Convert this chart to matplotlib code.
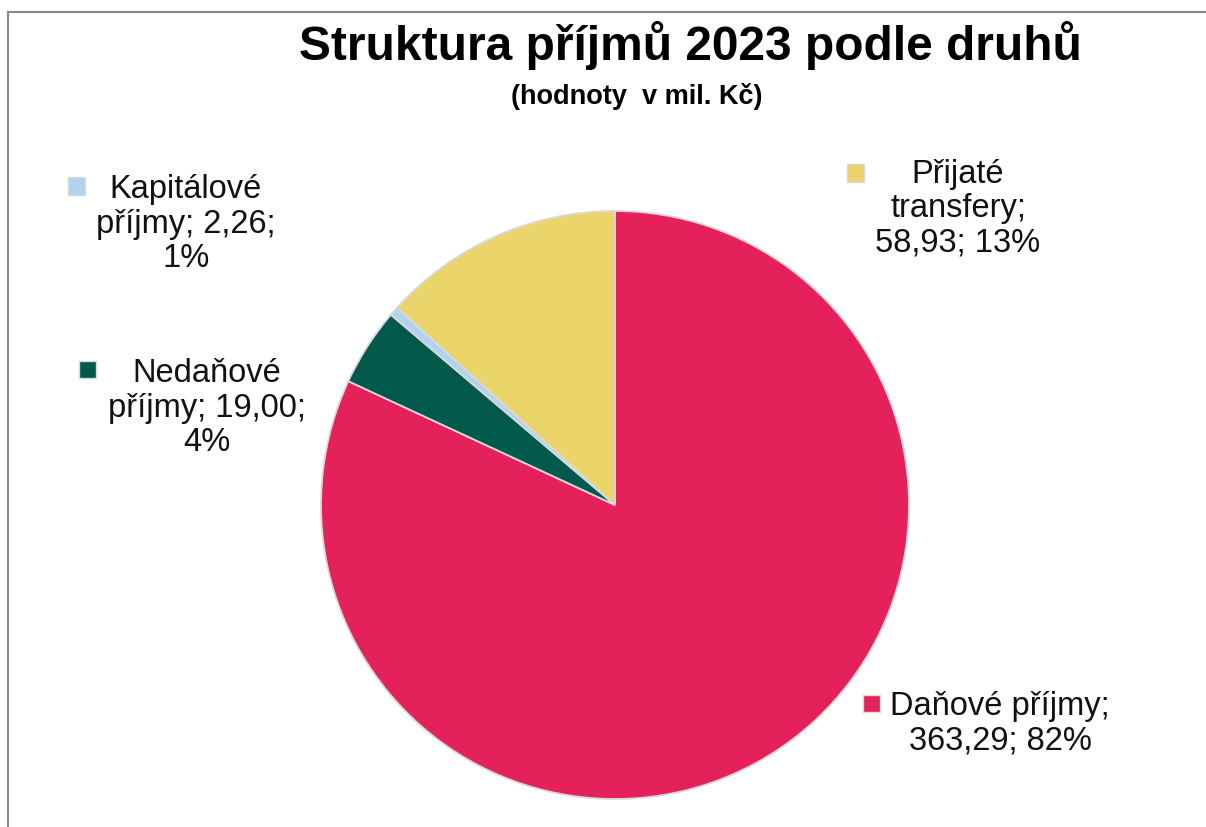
import matplotlib.pyplot as plt
from matplotlib.patches import Rectangle
from matplotlib.lines import Line2D

plt.rcParams["font.family"] = ["Liberation Sans", "DejaVu Sans"]

# data (mil. Kč)
categories = ["Daňové příjmy", "Nedaňové příjmy", "Kapitálové příjmy", "Přijaté transfery"]
values = [363.29, 19.00, 2.26, 58.93]
colors = ["#E5215B", "#00594A", "#B3D2F0", "#EBD46A"]

W, H = 1206, 827
fig = plt.figure(figsize=(W / 100, H / 100), dpi=100)


def fx(px):
    return px / W


def fy(py):
    return 1 - py / H


# pie: center (615, 505) px, radius 294 px
cx, cy, r = 615, 505, 294
ax = fig.add_axes([fx(cx - r), fy(cy + r), 2 * r / W, 2 * r / H])
ax.pie(
    values,
    colors=colors,
    startangle=90,
    counterclock=False,
    wedgeprops=dict(edgecolor="#d9d9d9", linewidth=1.3),
)
ax.set_xlim(-1, 1)
ax.set_ylim(-1, 1)
ax.set_aspect("auto")
ax.axis("off")

# titles
fig.text(fx(690), fy(46), "Struktura příjmů 2023 podle druhů",
         ha="center", va="center", fontsize=34.5, fontweight="bold")
fig.text(fx(637), fy(96), "(hodnoty  v mil. Kč)",
         ha="center", va="center", fontsize=19.5, fontweight="bold")

# data labels
total = sum(values)


def fmt(v):
    return f"{v:.2f}".replace(".", ",")


pct = [f"{round(v / total * 100):.0f}%" for v in values]
label_text = [
    f"Daňové příjmy;\n{fmt(values[0])}; {pct[0]}",
    f"Nedaňové\npříjmy; {fmt(values[1])};\n{pct[1]}",
    f"Kapitálové\npříjmy; {fmt(values[2])};\n{pct[2]}",
    f"Přijaté\ntransfery;\n{fmt(values[3])}; {pct[3]}",
]
label_pos = [(1000, 724), (207, 408), (186, 224), (958, 209)]
marker_pos = [(871, 703), (87, 369), (76, 186), (855, 173)]

for txt, (x, y), (mx, my), c in zip(label_text, label_pos, marker_pos, colors):
    fig.text(fx(x), fy(y), txt, ha="center", va="center", fontsize=23.5,
             linespacing=1.14, color="#111111")
    s = 17
    fig.patches.append(Rectangle((fx(mx - s / 2), fy(my + s / 2)), s / W, s / H,
                                 transform=fig.transFigure, facecolor=c,
                                 edgecolor="#d9d9d9", linewidth=1))

# chart frame (top and left)
fig.add_artist(Line2D([fx(8), 1], [fy(12), fy(12)], color="#888888", lw=1.5,
                      transform=fig.transFigure))
fig.add_artist(Line2D([fx(8), fx(8)], [fy(12), 0], color="#888888", lw=1.5,
                      transform=fig.transFigure))

fig.savefig("out.png", dpi=100)
